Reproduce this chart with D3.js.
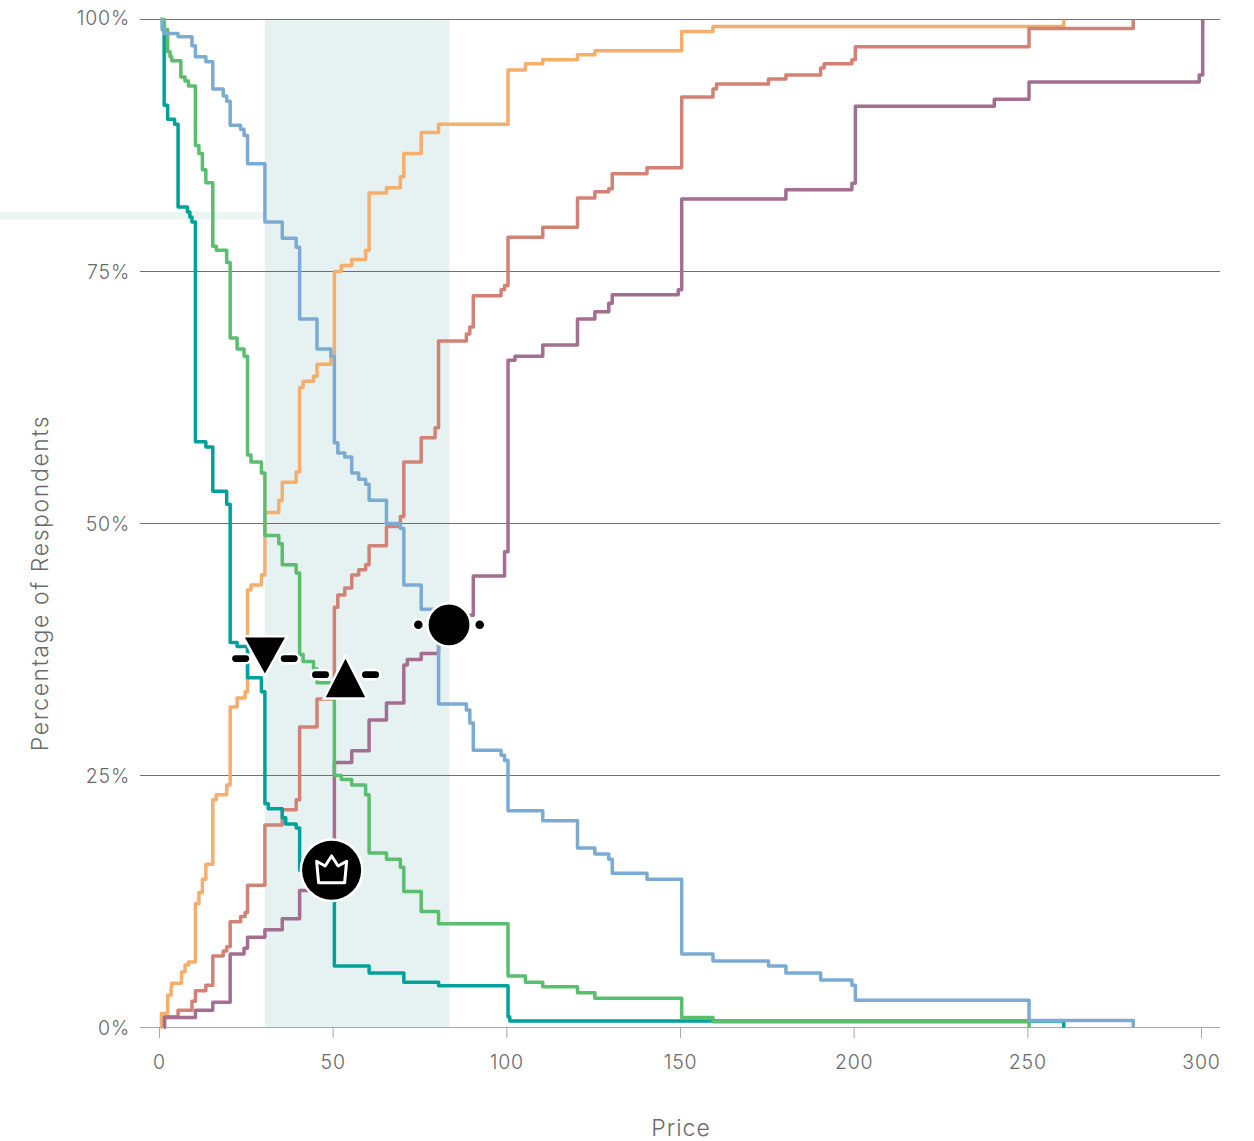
<!DOCTYPE html>
<html>
<head>
<meta charset="utf-8">
<script src="https://cdn.jsdelivr.net/npm/d3@7"></script>
<style>
  body { margin: 0; background: #fff; }
  text { font-family: Inter, "Open Sans", sans-serif; fill: #6b6b6b; font-weight: 300; }
</style>
</head>
<body>
<div id="chart"></div>
<script>
// [price, % of respondents], each entry is where the step lands
const orangeCurve = [[0,0],[0.2,1.4],[2,3.2],[3,4.0],[3.2,4.4],[6,5.5],[7,6.2],[8,6.5],[10,12.3],[11,13.4],[12,14.7],[13,16.2],[15,22.6],[16,23.1],[19,24.05],[20,31.8],[22,32.7],[24.3,33.3],[25,43.4],[26,43.9],[29,44.9],[30,51.1],[34,52.3],[35,54.1],[39,55.1],[40,63.5],[41,64.1],[44,64.6],[45,65.8],[49,66.6],[50,75.0],[52,75.6],[55,76.2],[59,77.1],[60,82.8],[65,83.3],[69,84.4],[70,86.7],[75,88.8],[80,89.6],[100,95.0],[105,95.6],[110,96.0],[120,96.5],[125,96.9],[150,98.8],[159,99.3],[260,100]];
const salmonCurve = [[1,0],[1.1,1.07],[5,1.7],[9,2.6],[10,3.65],[13,4.2],[15,7.1],[18,7.6],[19,8.0],[20,10.5],[23,11.0],[24.3,11.4],[25,14.1],[30,20.1],[35,21.6],[39,22.6],[40,29.8],[45,32.6],[50,41.7],[51,42.9],[53,43.6],[55,44.9],[57,45.4],[59,45.9],[60,47.8],[65,49.7],[69,50.7],[70,56.1],[75,58.5],[79,59.5],[80,68.1],[88,68.8],[89,69.5],[90,72.6],[98,73.2],[99,73.6],[100,78.4],[110,79.4],[120,82.3],[125,82.9],[129,83.2],[130,84.7],[140,85.3],[150,92.3],[159,93.1],[160,93.6],[175,94.1],[180,94.5],[190,95.2],[191,95.6],[199,96.0],[200,97.3],[250,99.1],[280,100]];
const purpleCurve = [[1,0],[1.1,1.0],[10,1.7],[15,2.5],[20,7.3],[24,7.85],[25,8.95],[30,9.7],[35,10.8],[40,13.6],[50,26.3],[55,27.45],[60,30.5],[65,32.2],[70,35.96],[71,36.5],[75,37.1],[80,40.9],[90,44.8],[99,47.2],[100,66.2],[102,66.6],[110,67.7],[120,70.3],[125,71.0],[129,71.85],[130,72.7],[149,73.2],[150,82.2],[180,83.1],[199,83.75],[200,91.4],[240,92.1],[250,93.8],[299,94.5],[300,100]];
const tealCurve = [[0,100],[0.5,99],[1,91.5],[2,90.1],[4,89.6],[5,81.4],[7.7,80.9],[8.4,80.4],[9,79.9],[10,58.1],[13,57.6],[15,53.2],[19,51.9],[20,38.2],[22,37.8],[25,34.7],[29,33.3],[30,22.2],[31,21.7],[35,20.8],[36,20.2],[39,19.8],[40,15.6],[50,6.1],[60,5.4],[70,4.5],[80,4.15],[100,1.07],[100.5,0.64],[260,0]];
const greenCurve = [[0,100],[1,99],[2,96.8],[2.7,96.3],[3.2,95.9],[5.8,94.3],[7,93.9],[8,93.4],[10,87.5],[11,86.7],[12,85.1],[13,83.8],[15,77.5],[16,77.1],[19,75.9],[20,68.4],[22,67.3],[24,66.6],[25,56.8],[26,56.1],[29,55.0],[30,48.8],[34,48.0],[35,45.9],[39,45.1],[40,37.0],[41,36.3],[44,35.6],[45,34.2],[50,25.0],[52,24.6],[55,24.05],[59,23.1],[60,17.3],[65,16.7],[69,15.9],[70,13.5],[75,11.5],[80,10.3],[100,5.1],[105,4.5],[110,4.05],[120,3.45],[125,2.9],[150,1.0],[159,0.58],[250,0]];
const blueCurve = [[0,100],[0.5,99.1],[1,98.6],[5,98.3],[9,97.4],[10,96.3],[13,95.8],[15,93.1],[18,92.4],[19,91.9],[20,89.5],[23,89.1],[24,88.5],[25,85.7],[30,79.9],[35,78.3],[39,77.4],[40,70.3],[45,67.3],[49,66.6],[50,58.0],[51,57.0],[53,56.6],[55,55.0],[57,54.4],[59,53.9],[60,52.3],[65,50.0],[69,49.5],[70,43.9],[75,41.5],[80,32.1],[88,31.5],[89,30.2],[90,27.5],[98,27.0],[99,26.5],[100,21.5],[110,20.5],[120,17.8],[125,17.2],[129,16.7],[130,15.3],[140,14.7],[150,7.3],[159,6.6],[175,6.1],[180,5.4],[190,4.7],[199,4.2],[200,2.7],[250,0.7],[280,0]];

const curves = [orangeCurve, salmonCurve, purpleCurve, tealCurve, greenCurve, blueCurve];
const curveColors = ['#f5ae6b', '#d28275', '#a46e90', '#00a19b', '#5bbd6e', '#7babd3'];

const priceTicks = [0, 50, 100, 150, 200, 250, 300];
const pctTicks = [0, 25, 50, 75, 100];
const rangeBand = [30.5, 83.5];
const stripePct = [80.15, 80.95];

// price, pct of the four marked points
const lowMark = [30.5, 36.6];
const highMark = [53.7, 35.0];
const endMark = [83.5, 39.95];
const crownMark = [49.7, 15.6];

const options = { width: 1254, height: 1141 };

const x = d3.scaleLinear().domain([0, 300]).range([159, 1201]);
const y = d3.scaleLinear().domain([0, 100]).range([1027.5, 19.5]);

const svg = d3.select('#chart')
  .append('svg')
  .attr('width', options.width)
  .attr('height', options.height)
  .style('display', 'block');

// shading goes under everything
svg.append('rect')
  .attr('x', 0)
  .attr('y', y(stripePct[1]))
  .attr('width', x(rangeBand[0]))
  .attr('height', y(stripePct[0]) - y(stripePct[1]))
  .attr('fill', '#ebf6f3');

svg.append('rect')
  .attr('x', x(rangeBand[0]))
  .attr('y', y(100))
  .attr('width', x(rangeBand[1]) - x(rangeBand[0]) + 0.5)
  .attr('height', y(0) - y(100))
  .attr('fill', '#e6f2f1');

const yAxis = svg.append('g')
  .attr('transform', 'translate(140,0)')
  .call(d3.axisLeft(y).tickValues(pctTicks).tickSize(0).tickPadding(10).tickFormat(d => d + '%'));
yAxis.select('.domain').remove();
yAxis.selectAll('text')
  .attr('font-size', 19.5)
  .attr('letter-spacing', 0.8)
  .attr('dy', d => d === 100 ? '0.28em' : '0.35em');

svg.append('g')
  .selectAll('line')
  .data(pctTicks)
  .enter()
  .append('line')
  .attr('x1', 140)
  .attr('x2', 1220)
  .attr('y1', d => Math.round(y(d)) - 0.5)
  .attr('y2', d => Math.round(y(d)) - 0.5)
  .attr('stroke', d => d === 0 ? '#a8a8a8' : '#707070')
  .attr('stroke-width', 1);

const xAxis = svg.append('g')
  .attr('transform', 'translate(0,1028)')
  .call(d3.axisBottom(x).tickValues(priceTicks).tickSize(10).tickPadding(17));
xAxis.select('.domain').remove();
xAxis.selectAll('line').attr('stroke', '#a8a8a8');
xAxis.selectAll('text')
  .attr('font-size', 19.5)
  .attr('letter-spacing', 0.8);

svg.append('text')
  .text('Price')
  .attr('text-anchor', 'middle')
  .attr('font-size', 23)
  .attr('letter-spacing', 1)
  .attr('x', 681)
  .attr('y', 1136);

svg.append('text')
  .text('Percentage of Respondents')
  .attr('text-anchor', 'middle')
  .attr('font-size', 23)
  .attr('letter-spacing', 1.6)
  .attr('transform', 'translate(48,583) rotate(-90)');

const stepLine = d3.line()
  .x(d => x(d[0]))
  .y(d => y(d[1]))
  .curve(d3.curveStepAfter);

// the steps sit half a price unit right of the ticks
svg.append('g')
  .attr('transform', 'translate(1.7,0)')
  .selectAll('path')
  .data(curves)
  .enter()
  .append('path')
  .attr('d', stepLine)
  .attr('fill', 'none')
  .attr('stroke', (d, i) => curveColors[i])
  .attr('stroke-width', 3.5)
  .attr('stroke-linejoin', 'round');

function dash(g, cx) {
  g.append('rect')
    .attr('x', cx - 8.5)
    .attr('y', -3.4)
    .attr('width', 17)
    .attr('height', 6.8)
    .attr('rx', 3.4)
    .attr('fill', '#000')
    .attr('stroke', '#fff')
    .attr('stroke-width', 5)
    .attr('paint-order', 'stroke');
}

function triangle(mark, points, offset) {
  const g = svg.append('g')
    .attr('transform', `translate(${x(mark[0])},${y(mark[1])})`);
  dash(g, -offset);
  dash(g, offset);
  g.append('path')
    .attr('d', d3.line()(points) + 'Z')
    .attr('fill', '#000')
    .attr('stroke', '#fff')
    .attr('stroke-width', 5)
    .attr('paint-order', 'stroke');
}

triangle(lowMark, [[-20, -21], [20, -21], [0, 15]], 24.3);
triangle(highMark, [[0, -16], [19.7, 22.5], [-19.7, 22.5]], 25);

const endG = svg.append('g')
  .attr('transform', `translate(${x(endMark[0])},${y(endMark[1])})`);
endG.selectAll('circle')
  .data([[-30.7, 4.3], [30.7, 4.3], [0, 20.4]])
  .enter()
  .append('circle')
  .attr('cx', d => d[0])
  .attr('r', d => d[1])
  .attr('fill', '#000')
  .attr('stroke', '#fff')
  .attr('stroke-width', 5)
  .attr('paint-order', 'stroke');

const crownG = svg.append('g')
  .attr('transform', `translate(${x(crownMark[0])},${y(crownMark[1])})`);
crownG.append('circle')
  .attr('r', 29.5)
  .attr('fill', '#000')
  .attr('stroke', '#fff')
  .attr('stroke-width', 5)
  .attr('paint-order', 'stroke');
crownG.append('path')
  .attr('d', d3.line()([[-13, 12.5], [-15, -9], [-6.5, -4.3], [0, -14.3], [6.5, -4.3], [15, -9], [13, 12.5]]) + 'Z')
  .attr('fill', 'none')
  .attr('stroke', '#fff')
  .attr('stroke-width', 3)
  .attr('stroke-linejoin', 'round');
</script>
</body>
</html>
